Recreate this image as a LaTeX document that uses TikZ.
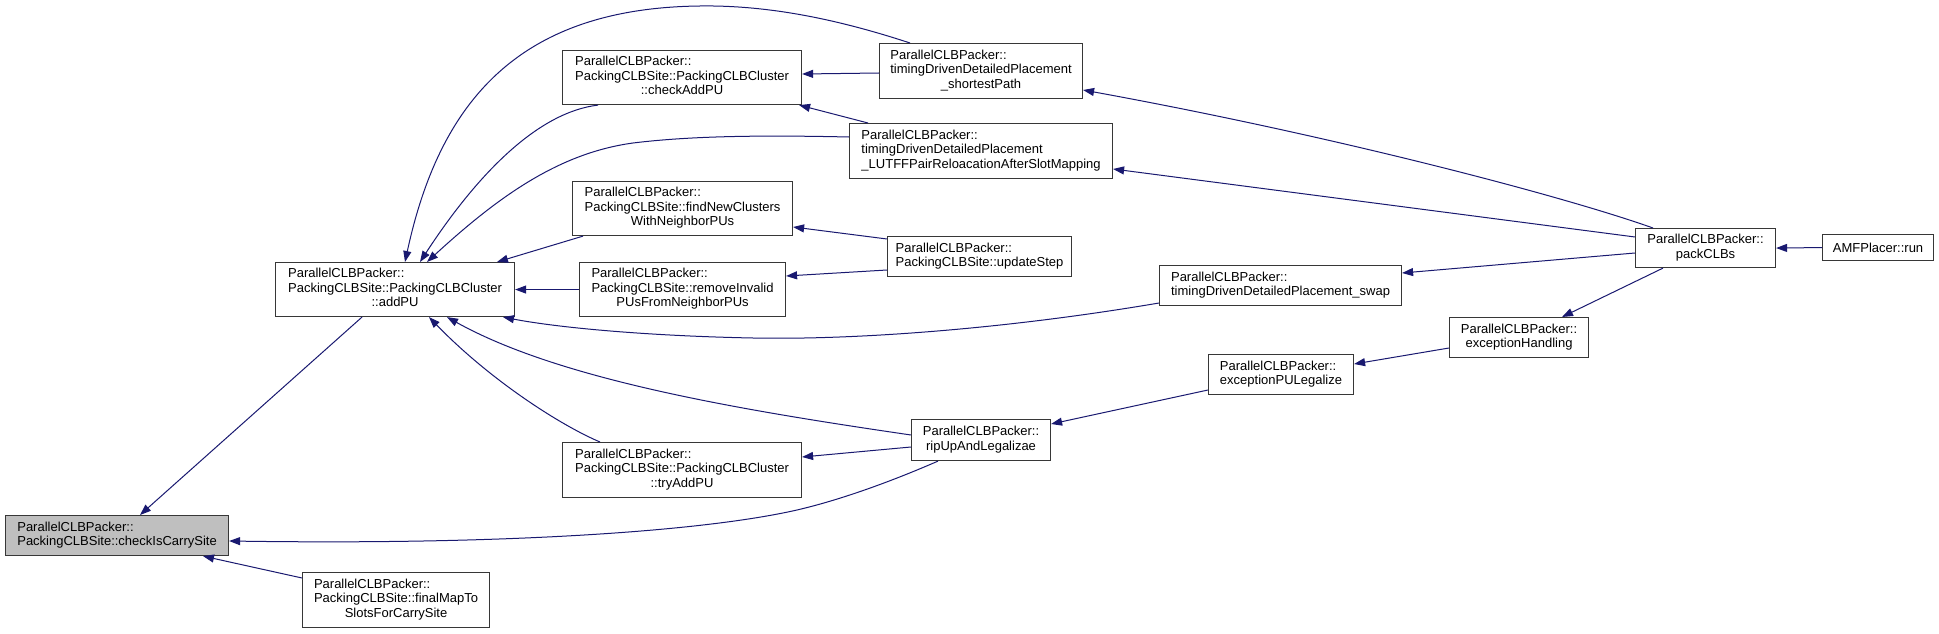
\documentclass[tikz,border=0pt]{standalone}
\usepackage{fontspec}
\setmainfont{Liberation Sans}
\usetikzlibrary{arrows.meta}
\definecolor{edgec}{RGB}{25,25,112}
\definecolor{boxc}{RGB}{55,55,55}
\definecolor{selc}{RGB}{191,191,191}
\newcommand\lab[2]{\begin{tabular}{@{}l@{}}#1\\\multicolumn{1}{@{}c@{}}{#2}\end{tabular}}
\newcommand\bx[7]{\node[nodebox,#6,minimum width={(#4-#2)*1pt},minimum height={(#5-#3)*1pt}] (#1) at (#2,#3) {#7};}
\begin{document}
\begin{tikzpicture}[x=1pt,y=-1pt,
  nodebox/.style={draw=boxc, line width=1.1pt, fill=white, inner sep=0pt,
    font=\fontsize{13}{14.5}\selectfont, anchor=north west},
  sel/.style={fill=selc},
  edge/.style={draw=edgec, line width=1pt, -{Triangle[length=11pt,width=8pt]}}]
\fill[white] (0,0) rectangle (1939,634);
\useasboundingbox (0,0) rectangle (1939,634);
% nodes
\bx{carry}{5}{515}{228}{555}{sel}{\lab{ParallelCLBPacker::}{PackingCLBSite::checkIsCarrySite}}
\bx{final}{302}{572}{489}{627}{}{\lab{ParallelCLBPacker::\\PackingCLBSite::finalMapTo}{SlotsForCarrySite}}
\bx{addPU}{275}{262}{514}{316}{}{\lab{ParallelCLBPacker::\\PackingCLBSite::PackingCLBCluster}{::addPU}}
\bx{checkAdd}{562}{50}{801}{104}{}{\lab{ParallelCLBPacker::\\PackingCLBSite::PackingCLBCluster}{::checkAddPU}}
\bx{findNew}{572}{181}{792}{235}{}{\lab{ParallelCLBPacker::\\PackingCLBSite::findNewClusters}{WithNeighborPUs}}
\bx{removeInv}{579}{262}{785}{316}{}{\lab{ParallelCLBPacker::\\PackingCLBSite::removeInvalid}{PUsFromNeighborPUs}}
\bx{tryAdd}{562}{442}{801}{497}{}{\lab{ParallelCLBPacker::\\PackingCLBSite::PackingCLBCluster}{::tryAddPU}}
\bx{shortest}{879}{43}{1082}{98}{}{\lab{ParallelCLBPacker::\\timingDrivenDetailedPlacement}{\_shortestPath}}
\bx{lutff}{849}{123}{1112}{178}{}{\lab{ParallelCLBPacker::\\timingDrivenDetailedPlacement}{\_LUTFFPairReloacationAfterSlotMapping}}
\bx{update}{887}{236}{1071}{276}{}{\lab{ParallelCLBPacker::}{PackingCLBSite::updateStep}}
\bx{ripUp}{911}{419}{1050}{460}{}{\lab{ParallelCLBPacker::}{ripUpAndLegalizae}}
\bx{swap}{1159}{265}{1401}{305}{}{\lab{ParallelCLBPacker::}{timingDrivenDetailedPlacement\_swap}}
\bx{puleg}{1208}{354}{1353}{394}{}{\lab{ParallelCLBPacker::}{exceptionPULegalize}}
\bx{handling}{1449}{317}{1588}{357}{}{\lab{ParallelCLBPacker::}{exceptionHandling}}
\bx{pack}{1635}{228}{1775}{267}{}{\lab{ParallelCLBPacker::}{packCLBs}}
\bx{amf}{1822}{234}{1933}{260}{}{AMFPlacer::run}
% edges (caller -> callee)
\draw[edge] ([xshift=87pt]addPU.south west) -- ([xshift=135pt]carry.north west);
\draw[edge] ([yshift=-6pt]final.north west) -- ([xshift=198pt]carry.south west);
\draw[edge] ([xshift=27pt]ripUp.south west) .. controls (890,482) and (840,500) .. (797,510)
  .. controls (700,532) and (500,545) .. ([yshift=-26pt]carry.north east);
\draw[edge] ([xshift=36pt]checkAdd.south west) .. controls (540,112) and (480,170) .. ([xshift=145pt]addPU.north west);
\draw[edge] ([xshift=31pt]shortest.north west) .. controls (840,20) and (770,5) .. (700,6)
  .. controls (520,8) and (440,100) .. ([xshift=130pt]addPU.north west);
\draw[edge] ([yshift=-14pt]lutff.north west) .. controls (760,135) and (690,136) .. (633,143)
  .. controls (560,153) and (500,195) .. ([xshift=152pt]addPU.north west);
\draw[edge] ([xshift=11pt]findNew.south west) -- ([xshift=222pt]addPU.north west);
\draw[edge] (removeInv.west) -- (addPU.east);
\draw[edge] ([yshift=-38pt]swap.north west) .. controls (1000,330) and (850,340) .. (753,338)
  .. controls (650,336) and (560,328) .. ([xshift=228pt]addPU.south west);
\draw[edge] ([yshift=-16pt]ripUp.north west) .. controls (740,410) and (560,380) .. ([xshift=172pt]addPU.south west);
\draw[edge] ([xshift=38pt]tryAdd.north west) .. controls (560,425) and (490,380) .. ([xshift=154pt]addPU.south west);
\draw[edge] ([yshift=-30pt]shortest.north west) -- ([yshift=-24pt]checkAdd.north east);
\draw[edge] ([xshift=19pt]lutff.north west) -- ([xshift=-3pt]checkAdd.south east);
\draw[edge] ([xshift=18pt]pack.north west) .. controls (1560,195) and (1330,135) .. ([yshift=-47pt]shortest.north east);
\draw[edge] ([yshift=-9pt]pack.north west) -- ([yshift=-46pt]lutff.north east);
\draw[edge] ([yshift=-25pt]pack.north west) -- ([yshift=-8pt]swap.north east);
\draw[edge] ([xshift=28pt]pack.south west) -- ([xshift=113pt]handling.north west);
\draw[edge] (amf.west) -- (pack.east);
\draw[edge] ([yshift=-3pt]update.north west) -- ([yshift=-46pt]findNew.north east);
\draw[edge] ([yshift=-34pt]update.north west) -- ([yshift=-14pt]removeInv.north east);
\draw[edge] ([yshift=-28pt]ripUp.north west) -- ([yshift=-15pt]tryAdd.north east);
\draw[edge] ([yshift=-36pt]puleg.north west) -- ([yshift=-5pt]ripUp.north east);
\draw[edge] ([yshift=-31pt]handling.north west) -- ([yshift=-10pt]puleg.north east);
\end{tikzpicture}
\end{document}
